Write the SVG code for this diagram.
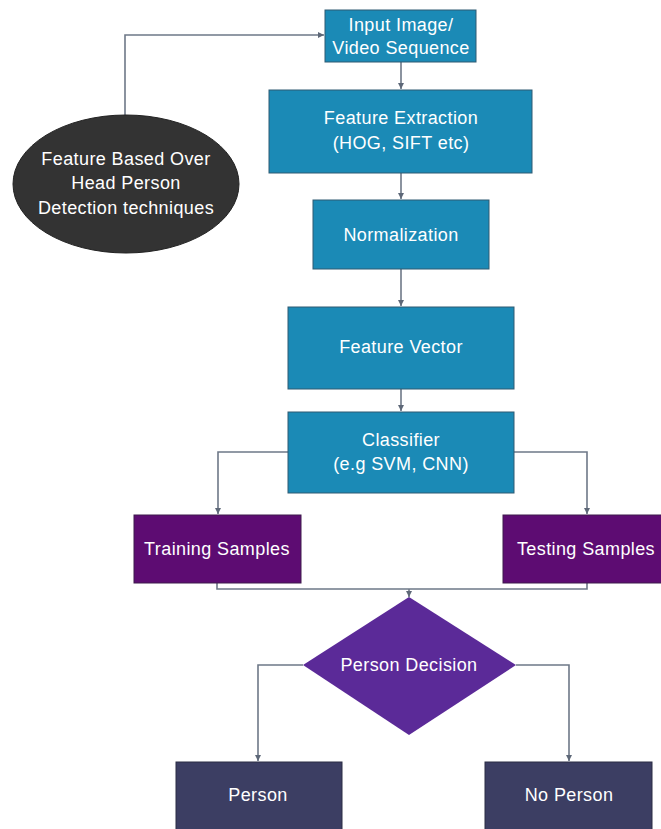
<svg xmlns="http://www.w3.org/2000/svg" width="661" height="829" viewBox="0 0 661 829">
<style>
.t{font-family:"Liberation Sans",Arial,sans-serif;font-size:18px;fill:#ffffff;text-anchor:middle;dominant-baseline:central;letter-spacing:0.4px}
.blue{fill:#1b8ab6;stroke:#2f5a72;stroke-width:1}
.samp{fill:#5d0c72;stroke:#3e1a4c;stroke-width:1}
.out{fill:#3c3e63;stroke:#2a2c44;stroke-width:1}
.c{fill:none;stroke:#6e7888;stroke-width:1.6}
</style>
<defs>
<marker id="ah" markerUnits="userSpaceOnUse" markerWidth="6" markerHeight="6" refX="6" refY="3" orient="auto">
<path d="M0,0 L6,3 L0,6 z" fill="#5e6878"/>
</marker>
</defs>
<rect width="661" height="829" fill="#ffffff"/>
<g id="connectors">
<path class="c" d="M125,116 V35 H324" marker-end="url(#ah)"/>
<path class="c" d="M401,62 V89" marker-end="url(#ah)"/>
<path class="c" d="M401,173 V199" marker-end="url(#ah)"/>
<path class="c" d="M401,269 V306" marker-end="url(#ah)"/>
<path class="c" d="M401,389 V411" marker-end="url(#ah)"/>
<path class="c" d="M288,452 H218 V514" marker-end="url(#ah)"/>
<path class="c" d="M514,452 H587 V514" marker-end="url(#ah)"/>
<path class="c" d="M217,583 V589 H587 V583"/>
<path class="c" d="M409,589 V597" marker-end="url(#ah)"/>
<path class="c" d="M303,665 H258 V761" marker-end="url(#ah)"/>
<path class="c" d="M516,665 H569 V761" marker-end="url(#ah)"/>
</g>
<g id="feature-based">
<ellipse cx="126" cy="184" rx="113" ry="69" fill="#333333" stroke="#222" stroke-width="1"/>
<text class="t" x="126" y="159">Feature Based Over</text>
<text class="t" x="126" y="183">Head Person</text>
<text class="t" x="126" y="208">Detection techniques</text>
</g>
<g id="input">
<rect class="blue" x="325" y="10" width="151" height="52"/>
<text class="t" x="401" y="25">Input Image/</text>
<text class="t" x="401" y="48">Video Sequence</text>
</g>
<g id="feature-extraction">
<rect class="blue" x="269" y="90" width="263" height="83"/>
<text class="t" x="401" y="118">Feature Extraction</text>
<text class="t" x="401" y="143">(HOG, SIFT etc)</text>
</g>
<g id="normalization">
<rect class="blue" x="313" y="200" width="176" height="69"/>
<text class="t" x="401" y="235">Normalization</text>
</g>
<g id="feature-vector">
<rect class="blue" x="288" y="307" width="226" height="82"/>
<text class="t" x="401" y="347">Feature Vector</text>
</g>
<g id="classifier">
<rect class="blue" x="288" y="412" width="226" height="81"/>
<text class="t" x="401" y="440">Classifier</text>
<text class="t" x="401" y="464">(e.g SVM, CNN)</text>
</g>
<g id="training">
<rect class="samp" x="134" y="515" width="167" height="68"/>
<text class="t" x="217" y="549">Training Samples</text>
</g>
<g id="testing">
<rect class="samp" x="503" y="515" width="162" height="68"/>
<text class="t" x="586" y="549">Testing Samples</text>
</g>
<g id="decision">
<polygon points="409,597 516,665 409,735 303,665" fill="#5b2a98"/>
<text class="t" x="409" y="665">Person Decision</text>
</g>
<g id="person">
<rect class="out" x="176" y="762" width="166" height="72"/>
<text class="t" x="258" y="795">Person</text>
</g>
<g id="no-person">
<rect class="out" x="485" y="762" width="167" height="72"/>
<text class="t" x="569" y="795">No Person</text>
</g>
</svg>
